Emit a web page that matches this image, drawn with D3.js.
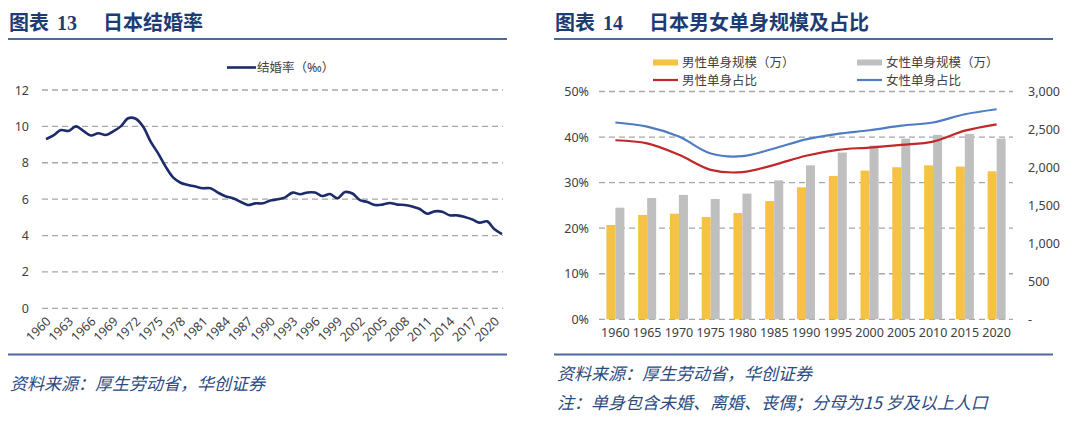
<!DOCTYPE html>
<html><head><meta charset="utf-8">
<script src="https://cdn.jsdelivr.net/npm/d3@7"></script>
<style>
html,body{margin:0;padding:0;background:#fff;}
svg{display:block;}
</style></head>
<body>
<svg id="c" width="1080" height="421"></svg>
<script>
// ---------- data: chart 13 ----------
const years = d3.range(1960, 2022);
const marriageRate = [9.3,9.5,9.8,9.75,10.0,9.75,9.5,9.62,9.53,9.73,10.0,10.45,10.42,9.98,9.16,8.52,7.79,7.2,6.9,6.78,6.69,6.6,6.6,6.36,6.16,6.05,5.86,5.68,5.77,5.77,5.92,5.99,6.1,6.36,6.27,6.37,6.36,6.17,6.28,6.05,6.39,6.31,5.95,5.84,5.68,5.7,5.79,5.7,5.68,5.59,5.46,5.2,5.33,5.31,5.11,5.11,5.02,4.89,4.71,4.78,4.34,4.08];
const leftTickYears = d3.range(1960, 2021, 3);
const leftYTicks = [0,2,4,6,8,10,12];

// ---------- data: chart 14 ----------
const categories = ["1960","1965","1970","1975","1980","1985","1990","1995","2000","2005","2010","2015","2020"];
const maleSingle   = [1242,1374,1391,1348,1400,1558,1738,1888,1958,2002,2028,2011,1949];
const femaleSingle = [1470,1598,1638,1585,1655,1830,2028,2196,2288,2380,2429,2442,2380];
const maleRatio    = [0.393,0.386,0.361,0.328,0.323,0.339,0.359,0.372,0.377,0.383,0.390,0.414,0.428];
const femaleRatio  = [0.432,0.423,0.401,0.364,0.358,0.375,0.395,0.407,0.415,0.425,0.432,0.450,0.461];
const pctTicks = [0,0.1,0.2,0.3,0.4,0.5];
const cntTicks = [0,500,1000,1500,2000,2500,3000];

const svg = d3.select("#c");
const titleColor = "#1F3B73";
const ruleColor = "#4A6A9C";
const textColor = "#404040";
const gridColor = "#A6A6A6";
const cjk = "'Noto Sans', 'Noto Sans CJK SC', sans-serif";

// ---------- headers / footers ----------
function header(x, num, txt, x2) {
  const t = svg.append("text").attr("x", x).attr("y", 30)
    .attr("fill", titleColor).attr("font-weight", "bold")
    .attr("font-family", "'Liberation Serif','Noto Sans CJK SC',serif")
    .attr("font-size", 20);
  t.append("tspan").text("图表");
  t.append("tspan").attr("dx", 8).text(num);
  t.append("tspan").attr("dx", 26).text(txt);
  svg.append("line").attr("x1", x - 1).attr("x2", x2).attr("y1", 39).attr("y2", 39)
    .attr("stroke", ruleColor).attr("stroke-width", 2);
  svg.append("line").attr("x1", x - 1).attr("x2", x2).attr("y1", 354.5).attr("y2", 354.5)
    .attr("stroke", ruleColor).attr("stroke-width", 2);
}
header(9, "13", "日本结婚率", 507);
header(555, "14", "日本男女单身规模及占比", 1053);

function note(x, y, txt) {
  svg.append("text").attr("x", x).attr("y", y).text(txt)
    .attr("fill", "#2B4A82").attr("font-size", 17).attr("font-style", "italic")
    .attr("font-family", "'Noto Sans CJK SC', sans-serif");
}
note(10, 390, "资料来源：厚生劳动省，华创证券");
note(557, 380, "资料来源：厚生劳动省，华创证券");
note(557, 409, "注：单身包含未婚、离婚、丧偶；分母为15 岁及以上人口");

// ---------- chart 13 ----------
const lx = d3.scaleLinear().domain([1960, 2021]).range([46, 502]);
const ly = d3.scaleLinear().domain([0, 12]).range([308.3, 90]);
const g1 = svg.append("g");

g1.append("g").selectAll("line").data(leftYTicks).join("line")
  .attr("x1", 42).attr("x2", 503).attr("y1", d => ly(d)).attr("y2", d => ly(d))
  .attr("stroke", gridColor).attr("stroke-width", 1.3).attr("stroke-dasharray", "6,4");

const lyAxis = g1.append("g").attr("transform", "translate(29,0)")
  .call(d3.axisLeft(ly).tickValues(leftYTicks).tickSize(0).tickPadding(0).tickFormat(d3.format("d")));
lyAxis.select(".domain").remove();
lyAxis.selectAll("text").attr("font-size", 12.5).attr("fill", textColor).attr("font-family", cjk);

const lxAxis = g1.append("g").attr("transform", "translate(0,315)")
  .call(d3.axisBottom(lx).tickValues(leftTickYears).tickSize(0).tickFormat(d3.format("d")));
lxAxis.select(".domain").remove();
lxAxis.selectAll("text").attr("font-size", 12.5).attr("fill", textColor).attr("font-family", cjk)
  .attr("text-anchor", "end").attr("dy", "0.35em").attr("y", 0)
  .attr("transform", "translate(2,4) rotate(-45)");

g1.append("path").datum(marriageRate)
  .attr("fill", "none").attr("stroke", "#1B2B6B").attr("stroke-width", 2.6)
  .attr("d", d3.line().x((d, i) => lx(years[i])).y(d => ly(d)).curve(d3.curveCatmullRom));

// legend
g1.append("line").attr("x1", 227).attr("x2", 256).attr("y1", 67.5).attr("y2", 67.5)
  .attr("stroke", "#1B2B6B").attr("stroke-width", 2.6);
g1.append("text").attr("x", 257).attr("y", 72).text("结婚率（‰）")
  .attr("font-size", 12.5).attr("fill", textColor).attr("font-family", cjk);

// ---------- chart 14 ----------
const g2 = svg.append("g");
const x0 = d3.scaleBand().domain(categories).range([599.5, 1012.5]);
const x1 = d3.scaleBand().domain(["m", "f"]).range([0, 18]);
const yP = d3.scaleLinear().domain([0, 0.5]).range([319.3, 91.5]);
const yC = d3.scaleLinear().domain([0, 3000]).range([319.3, 91.5]);

g2.append("g").selectAll("line").data(pctTicks).join("line")
  .attr("x1", 599).attr("x2", 1013).attr("y1", d => yP(d)).attr("y2", d => yP(d))
  .attr("stroke", gridColor).attr("stroke-width", 1.3).attr("stroke-dasharray", "6,4");

const cx = c => x0(c) + x0.bandwidth() / 2 - 9;
g2.append("g").selectAll("rect").data(maleSingle).join("rect")
  .attr("x", (d, i) => cx(categories[i]) + x1("m")).attr("width", x1.bandwidth())
  .attr("y", d => yC(d)).attr("height", d => yC(0) - yC(d)).attr("fill", "#F5C242");
g2.append("g").selectAll("rect").data(femaleSingle).join("rect")
  .attr("x", (d, i) => cx(categories[i]) + x1("f")).attr("width", x1.bandwidth())
  .attr("y", d => yC(d)).attr("height", d => yC(0) - yC(d)).attr("fill", "#BFBFBF");

const lineGen = d3.line().x((d, i) => x0(categories[i]) + x0.bandwidth() / 2).y(d => yP(d)).curve(d3.curveCatmullRom);
g2.append("path").datum(femaleRatio).attr("fill", "none").attr("stroke", "#4F7CC4").attr("stroke-width", 2.2).attr("d", lineGen);
g2.append("path").datum(maleRatio).attr("fill", "none").attr("stroke", "#C0282A").attr("stroke-width", 2.2).attr("d", lineGen);

const ayL = g2.append("g").attr("transform", "translate(589,0)")
  .call(d3.axisLeft(yP).tickValues(pctTicks).tickSize(0).tickPadding(0).tickFormat(d3.format(".0%")));
ayL.select(".domain").remove();
ayL.selectAll("text").attr("font-size", 12.5).attr("fill", textColor).attr("font-family", cjk);

const ayR = g2.append("g").attr("transform", "translate(1028,0)")
  .call(d3.axisRight(yC).tickValues(cntTicks).tickSize(0).tickPadding(0).tickFormat(d => d === 0 ? "-" : d3.format(",")(d)));
ayR.select(".domain").remove();
ayR.selectAll("text").attr("font-size", 12.5).attr("fill", textColor).attr("font-family", cjk);

const ax = g2.append("g").attr("transform", "translate(0,328)")
  .call(d3.axisBottom(x0).tickSize(0).tickPadding(0));
ax.select(".domain").remove();
ax.selectAll("text").attr("font-size", 12.5).attr("fill", textColor).attr("font-family", cjk);

// legend
const leg = [
  {t: "男性单身规模（万）", type: "rect", c: "#F5C242", x: 653, y: 62.5},
  {t: "女性单身规模（万）", type: "rect", c: "#BFBFBF", x: 857, y: 62.5},
  {t: "男性单身占比", type: "line", c: "#C0282A", x: 653, y: 80},
  {t: "女性单身占比", type: "line", c: "#4F7CC4", x: 857, y: 80}
];
leg.forEach(l => {
  if (l.type === "rect") {
    g2.append("rect").attr("x", l.x).attr("y", l.y - 3).attr("width", 25).attr("height", 6).attr("fill", l.c);
  } else {
    g2.append("line").attr("x1", l.x).attr("x2", l.x + 25).attr("y1", l.y).attr("y2", l.y).attr("stroke", l.c).attr("stroke-width", 2.2);
  }
  g2.append("text").attr("x", l.x + 29).attr("y", l.y + 4.5).text(l.t)
    .attr("font-size", 12.5).attr("fill", textColor).attr("font-family", cjk);
});
</script>
</body></html>
